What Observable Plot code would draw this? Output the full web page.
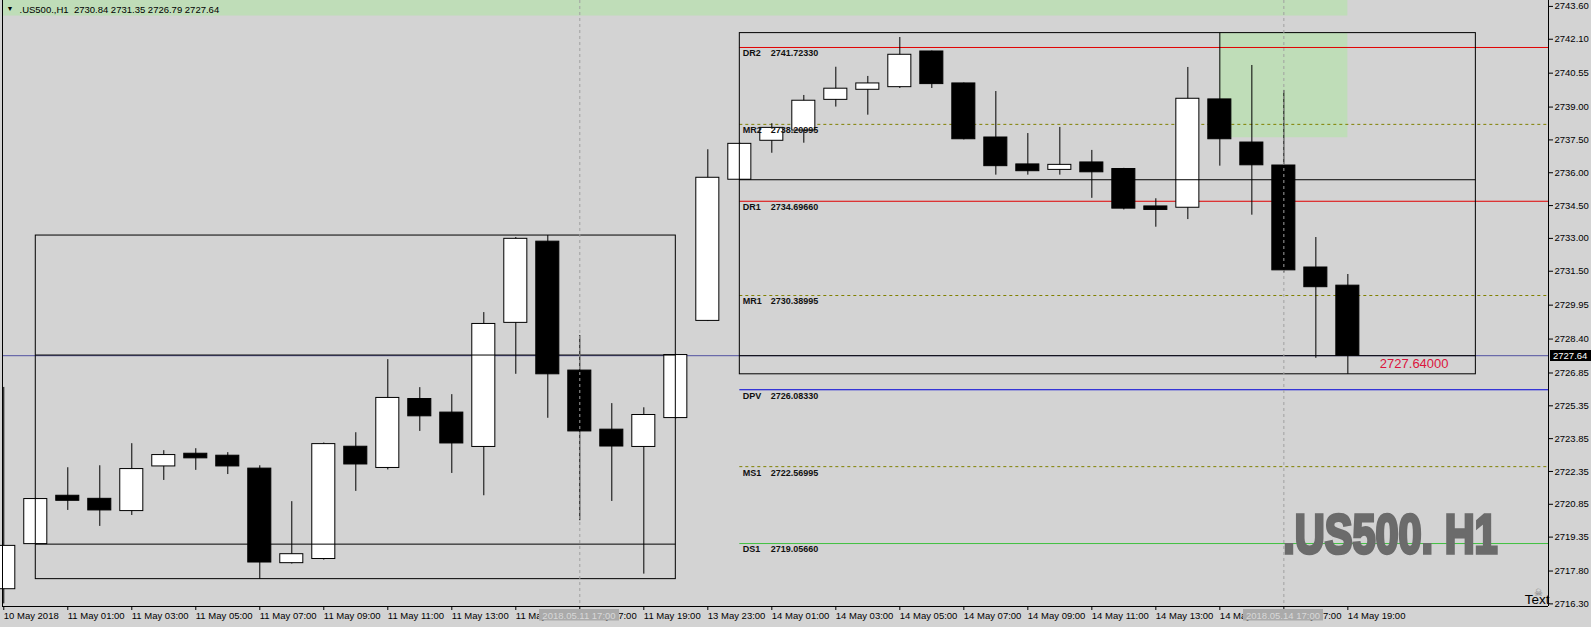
<!DOCTYPE html>
<html>
<head>
<meta charset="utf-8">
<script src="https://cdn.jsdelivr.net/npm/d3@7"></script>
<script src="https://cdn.jsdelivr.net/npm/@observablehq/plot@0.6"></script>
<style>
html, body { margin: 0; padding: 0; background: #d3d3d3; overflow: hidden; }
</style>
</head>
<body>
<div id="chart"></div>
<script>
// ---------------- data ----------------
const symbol = ".US500.";
const timeframe = "H1";

const barTimes = [
  "2018.05.10 23:00",
  "2018.05.11 00:00", "2018.05.11 01:00", "2018.05.11 02:00", "2018.05.11 03:00", "2018.05.11 04:00",
  "2018.05.11 05:00", "2018.05.11 06:00", "2018.05.11 07:00", "2018.05.11 08:00", "2018.05.11 09:00",
  "2018.05.11 10:00", "2018.05.11 11:00", "2018.05.11 12:00", "2018.05.11 13:00", "2018.05.11 14:00",
  "2018.05.11 15:00", "2018.05.11 16:00", "2018.05.11 17:00", "2018.05.11 18:00", "2018.05.11 19:00",
  "2018.05.11 20:00",
  "2018.05.13 23:00",
  "2018.05.14 00:00", "2018.05.14 01:00", "2018.05.14 02:00", "2018.05.14 03:00", "2018.05.14 04:00",
  "2018.05.14 05:00", "2018.05.14 06:00", "2018.05.14 07:00", "2018.05.14 08:00", "2018.05.14 09:00",
  "2018.05.14 10:00", "2018.05.14 11:00", "2018.05.14 12:00", "2018.05.14 13:00", "2018.05.14 14:00",
  "2018.05.14 15:00", "2018.05.14 16:00", "2018.05.14 17:00", "2018.05.14 18:00", "2018.05.14 19:00"
];

const open = [2716.97, 2719.03, 2721.24, 2721.10, 2720.54, 2722.58, 2723.16, 2723.07, 2722.48, 2718.16,
  2718.35, 2723.48, 2722.51, 2725.66, 2725.04, 2723.47, 2729.14, 2732.85, 2726.96, 2724.26,
  2723.47, 2724.79, 2729.23, 2735.68, 2737.46, 2737.93, 2739.33, 2739.79, 2739.91, 2741.54,
  2740.08, 2737.61, 2736.38, 2736.13, 2736.47, 2736.17, 2734.46, 2734.40, 2739.35, 2737.38,
  2736.33, 2731.67, 2730.84];
const high = [2726.19, 2721.12, 2722.52, 2722.61, 2723.62, 2723.30, 2723.39, 2723.21, 2722.61, 2720.97,
  2723.65, 2724.12, 2727.46, 2726.18, 2725.86, 2729.61, 2733.04, 2733.13, 2728.56, 2725.45,
  2725.26, 2727.70, 2737.05, 2737.35, 2738.24, 2739.53, 2740.82, 2740.40, 2742.18, 2741.56,
  2740.10, 2739.71, 2737.79, 2738.07, 2737.02, 2736.20, 2734.81, 2740.81, 2742.38, 2740.90,
  2739.76, 2733.04, 2731.35];
const low = [2716.30, 2719.00, 2720.57, 2719.84, 2720.34, 2721.94, 2722.40, 2722.21, 2717.43, 2718.12,
  2718.30, 2721.44, 2722.42, 2724.18, 2722.26, 2721.24, 2726.79, 2724.78, 2720.10, 2720.98,
  2717.66, 2724.75, 2729.20, 2735.65, 2736.89, 2737.35, 2739.00, 2738.63, 2739.85, 2739.85,
  2737.50, 2735.89, 2735.89, 2735.89, 2734.83, 2734.30, 2733.51, 2733.86, 2736.30, 2734.06,
  2731.42, 2727.52, 2726.79];
const close = [2718.95, 2721.09, 2721.01, 2720.57, 2722.46, 2723.10, 2722.95, 2722.58, 2718.19, 2718.57,
  2723.60, 2722.67, 2725.71, 2724.87, 2723.63, 2729.09, 2732.98, 2726.79, 2724.18, 2723.49,
  2724.93, 2727.67, 2735.77, 2737.32, 2738.05, 2739.29, 2739.84, 2740.08, 2741.39, 2740.05,
  2737.53, 2736.30, 2736.07, 2736.36, 2736.02, 2734.36, 2734.30, 2739.38, 2737.53, 2736.34,
  2731.54, 2730.77, 2727.64];

// x-axis tick labels (bar index -> label)
const xTickBars = [0, 2, 4, 6, 8, 10, 12, 14, 16, 18, 20, 22, 24, 26, 28, 30, 32, 34, 36, 38, 40, 42];
const xTickLabels = ["10 May 2018", "11 May 01:00", "11 May 03:00", "11 May 05:00", "11 May 07:00",
  "11 May 09:00", "11 May 11:00", "11 May 13:00", "11 May 15:00", "11 May 17:00", "11 May 19:00",
  "13 May 23:00", "14 May 01:00", "14 May 03:00", "14 May 05:00", "14 May 07:00", "14 May 09:00",
  "14 May 11:00", "14 May 13:00", "14 May 15:00", "14 May 17:00", "14 May 19:00"];

// price axis ticks
const yTicks = [2743.60, 2742.10, 2740.55, 2739.00, 2737.50, 2736.00, 2734.50, 2733.00, 2731.50, 2729.95,
  2728.40, 2726.85, 2725.35, 2723.85, 2722.35, 2720.85, 2719.35, 2717.80, 2716.30];

// pivot levels
const pivotNames = ["DR2", "MR2", "DR1", "MR1", "DPV", "MS1", "DS1"];
const pivotValues = [2741.72330, 2738.20995, 2734.69660, 2730.38995, 2726.08330, 2722.56995, 2719.05660];

// session boxes (first bar, last bar)
const sessionStart = [1, 23];
const sessionEnd = [21, 46];

// highlighted zone
const zoneBars = [38, 42];
const zonePrices = [2737.60, 2742.38];

// crosshair bars
const crosshairBars = [18, 40];

// ---------------- styles ----------------
const pivotStyle = {
  DR2: {color: "#e00000", dash: null},
  MR2: {color: "#808000", dash: "3,3"},
  DR1: {color: "#e00000", dash: null},
  MR1: {color: "#808000", dash: "3,3"},
  DPV: {color: "#0000d8", dash: null},
  MS1: {color: "#808000", dash: "3,3"},
  DS1: {color: "#40c040", dash: null}
};
const bg = "#d3d3d3";
const greenFill = "#bfddb8";
const font = "'Liberation Sans', Arial, sans-serif";
const watermarkText = `${symbol} ${timeframe}`;

// ---------------- derived tables ----------------
const bars = barTimes.map((t, i) => ({i, t, o: open[i], h: high[i], l: low[i], c: close[i]}));
const last = bars[bars.length - 1];
const sessions = sessionStart.map((s, k) => {
  const e = sessionEnd[k];
  const inb = bars.filter(b => b.i >= s && b.i <= e);
  return {x1: s, x2: e, top: d3.max(inb, b => b.h), bottom: d3.min(inb, b => b.l),
          open: inb[0].o, close: inb[inb.length - 1].c};
});
const pivots = pivotNames.map((name, k) => ({name, v: pivotValues[k]}));
const pivotFrom = sessionStart[1];
const zone = {x1: zoneBars[0], x2: zoneBars[1], y1: zonePrices[0], y2: zonePrices[1]};

const xDomain = [-0.04, 48.27];
const yDomain = [2716.18, 2743.87];
const headerBandBottom = 2743.16;
const half = 0.36;

const plot = Plot.plot({
  width: 1591,
  height: 627,
  marginLeft: 2,
  marginRight: 43,
  marginTop: 0,
  marginBottom: 21,
  x: {domain: xDomain},
  y: {domain: yDomain},
  style: {background: bg, fontFamily: font, fontSize: "9.5px", color: "black", overflow: "visible"},
  marks: [
    // header band
    Plot.rect([last], {x1: () => xDomain[0], x2: d => d.i, y1: () => headerBandBottom, y2: () => yDomain[1], fill: greenFill}),
    // zone
    Plot.rect([zone], {x1: "x1", x2: "x2", y1: "y1", y2: "y2", fill: greenFill}),
    // pivot lines
    Plot.ruleY(pivots.filter(p => !pivotStyle[p.name].dash), {y: "v", x1: () => pivotFrom, x2: () => xDomain[1], stroke: d => pivotStyle[d.name].color}),
    Plot.ruleY(pivots.filter(p => pivotStyle[p.name].dash), {y: "v", x1: () => pivotFrom, x2: () => xDomain[1], stroke: d => pivotStyle[d.name].color, strokeDasharray: "3,3"}),
    // bid line
    Plot.ruleY([last], {y: "c", stroke: "#5252a0"}),
    // wicks
    Plot.ruleX(bars, {x: "i", y1: "l", y2: "h", stroke: "black"}),
    // bodies
    Plot.rect(bars, {x1: d => d.i - half, x2: d => d.i + half, y1: "o", y2: "c",
      fill: d => d.c >= d.o ? "white" : "black", stroke: "black", strokeWidth: 1}),
    // session boxes
    Plot.rect(sessions, {x1: "x1", x2: "x2", y1: "bottom", y2: "top", fill: "none", stroke: "black"}),
    Plot.ruleY(sessions, {y: "open", x1: "x1", x2: "x2", stroke: "black"}),
    Plot.ruleY(sessions, {y: "close", x1: "x1", x2: "x2", stroke: "black"}),
    // crosshair lines
    Plot.ruleX(crosshairBars, {x: d => d, stroke: "#a0a0a0", strokeDasharray: "3,3"}),
    // pivot labels
    Plot.text(pivots, {x: () => pivotFrom, y: "v", text: "name", dx: 3, dy: 2.5, textAnchor: "start", lineAnchor: "top",
      fontSize: 9, fontWeight: "bold", fill: "#111"}),
    Plot.text(pivots, {x: () => pivotFrom, y: "v", text: d => d.v.toFixed(5), dx: 31, dy: 2.5, textAnchor: "start", lineAnchor: "top",
      fontSize: 9, fontWeight: "bold", fill: "#111"}),
    // last price text
    Plot.text([last], {x: d => d.i + 1, y: "c", text: d => d.c.toFixed(5), dy: 3, textAnchor: "start", lineAnchor: "top",
      fontSize: 13, fill: "#dc143c"}),
    // watermark
    Plot.text([watermarkText], {text: d => d, frameAnchor: "bottom-right", dx: -158, dy: -71,
      textAnchor: "middle", lineAnchor: "middle", fontSize: 56, fontWeight: "bold",
      fontFamily: "'Liberation Sans', Arial, sans-serif", fill: "#6b6b6b", stroke: "#6b6b6b", strokeWidth: 3.5,
      strokeLinejoin: "miter"}),
    // "Text" object + icon
    Plot.text(["Text"], {text: d => d, frameAnchor: "bottom-right", dx: 1, dy: -3, textAnchor: "end", lineAnchor: "bottom",
      fontSize: 13.5, fill: "black"}),
    Plot.text(["\u2620"], {text: d => d, frameAnchor: "bottom-right", dx: -10, dy: -14, textAnchor: "middle", lineAnchor: "middle",
      fontSize: 10, fill: "#777"}),
    // header
    Plot.text(["\u25BC"], {text: d => d, frameAnchor: "top-left", dx: 4, dy: 6, textAnchor: "start", lineAnchor: "top", fontSize: 7, fill: "black"}),
    Plot.text([last], {text: d => `${symbol},${timeframe}  ${d.o.toFixed(2)} ${d.h.toFixed(2)} ${d.l.toFixed(2)} ${d.c.toFixed(2)}`,
      frameAnchor: "top-left", dx: 17, dy: 6, textAnchor: "start", lineAnchor: "top", fontSize: 9.5, fill: "black"}),
    // borders
    Plot.ruleX([xDomain[0]], {x: d => d, stroke: "black"}),
    Plot.ruleX([xDomain[1]], {x: d => d, stroke: "black"}),
    Plot.ruleY([yDomain[0]], {y: d => d, stroke: "black"}),
    // axes
    Plot.axisY({anchor: "right", ticks: yTicks, tickFormat: d => d.toFixed(2), tickSize: 4, tickPadding: 2, label: null, fontSize: 9.5}),
    Plot.axisX({anchor: "bottom", ticks: xTickBars, tickFormat: d => xTickLabels[xTickBars.indexOf(d)], textAnchor: "start",
      tickSize: 4, tickPadding: 2, label: null, fontSize: 9.5, dx: 0})
  ]
});

document.getElementById("chart").appendChild(plot);

// post-process: condensed watermark, axis price tag, crosshair date tags
const svg = d3.select(plot);
svg.selectAll("text").each(function() {
  if (this.textContent === watermarkText) {
    const len = this.getComputedTextLength() + 3.5;
    const s = 217 / len;
    const tr = this.getAttribute("transform") || "";
    this.setAttribute("transform", `${tr} scale(${s},1)`);
  }
});
const xs = plot.scale("x").apply;
const ys = plot.scale("y").apply;
const yc = Math.round(ys(last.c));
const xr = Math.round(xs(xDomain[1]));
const tag = svg.append("g");
tag.append("rect").attr("x", xr + 2).attr("y", yc - 5).attr("width", 1591 - xr - 2).attr("height", 11).attr("fill", "black");
tag.append("text").attr("x", xr + 5).attr("y", yc + 4).attr("text-anchor", "start").attr("fill", "white")
  .attr("font-size", 9.5).attr("font-family", font).text(last.c.toFixed(2));
const xh = svg.append("g");
crosshairBars.forEach(b => {
  const cx = Math.round(xs(b));
  xh.append("rect").attr("x", cx - 40).attr("y", 609).attr("width", 80).attr("height", 11.5).attr("fill", "#aaaaaa");
  xh.append("text").attr("x", cx).attr("y", 618.5).attr("text-anchor", "middle").attr("fill", "#d8d8d8")
    .attr("font-size", 9.5).attr("font-family", font).text(bars[b].t);
});
</script>
</body>
</html>
